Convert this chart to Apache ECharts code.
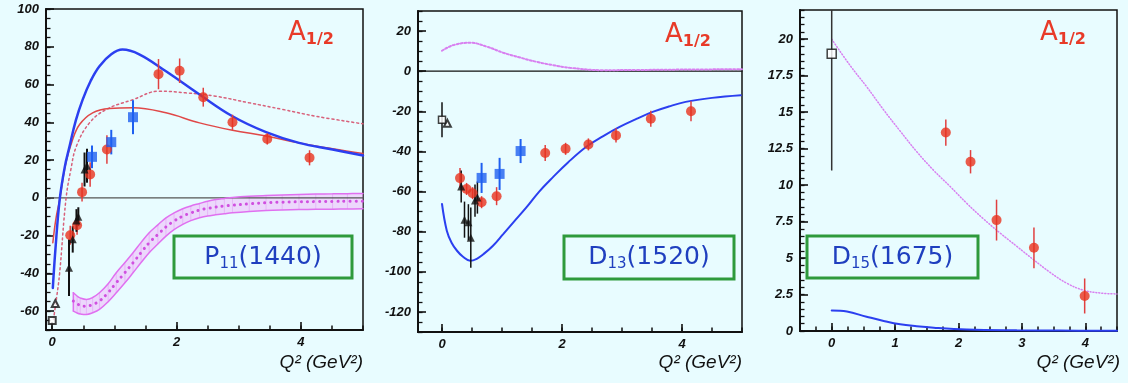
<!DOCTYPE html>
<html>
<head>
<meta charset="utf-8">
<script src="https://cdn.jsdelivr.net/npm/echarts@6/dist/echarts.min.js"></script>
<style>
  html, body { margin: 0; padding: 0; background: #e8fcff; }
  #chart { width: 1128px; height: 383px; }
</style>
</head>
<body>
<div id="chart"></div>
<script>
// ---------- P11(1440) ----------
const p11RedX   = [0.29, 0.40, 0.48, 0.61, 0.88, 1.71, 2.05, 2.43, 2.90, 3.46, 4.14];
const p11RedY   = [-19.8, -14.5, 3.0, 12.4, 25.6, 65.5, 67.3, 53.3, 40.0, 31.2, 21.2];
const p11RedErr = [5, 5, 5, 6.5, 7.5, 8, 6.5, 5, 4, 3, 4];
const p11BlueX   = [0.64, 0.95, 1.30];
const p11BlueY   = [21.7, 29.5, 42.7];
const p11BlueErr = [6, 6.5, 9];
const p11TriX   = [0.27, 0.33, 0.39, 0.42, 0.52, 0.56];
const p11TriY   = [-37, -22, -12, -10, 15, 17];
const p11TriErr = [15, 7, 6, 5, 9, 9];
const p11OpenSq  = [0, -65];
const p11OpenTri = [0.05, -56];
const p11BlueCurveX = [0.01, 0.05, 0.12, 0.20, 0.28, 0.38, 0.49, 0.62, 0.76, 0.95, 1.13, 1.40, 1.83, 2.37, 2.90, 3.44, 3.97, 4.51, 5.0];
const p11BlueCurveY = [-47.7, -28, -1, 16, 27.4, 41, 52, 62, 69.7, 76, 78.5, 76, 67, 54.7, 43.2, 34.8, 29.1, 25.6, 22.4];
const p11RedCurveX = [0.01, 0.06, 0.12, 0.22, 0.32, 0.44, 0.65, 0.92, 1.30, 1.83, 2.37, 2.90, 3.44, 3.97, 4.51, 5.0];
const p11RedCurveY = [-23.8, -11, -1, 18.5, 30, 38.8, 45, 47.3, 47.7, 45, 39.7, 35.8, 32.7, 29.1, 26, 23.5];
const p11DotX = [0.02, 0.07, 0.12, 0.22, 0.30, 0.39, 0.60, 0.87, 1.30, 1.72, 2.15, 2.63, 3.17, 3.71, 4.24, 5.0];
const p11DotY = [-64.4, -53, -39.7, -1, 15, 27.4, 39.7, 46.8, 52, 56.5, 55.6, 53.8, 50.3, 46.8, 43.2, 39.2];
const p11BandX   = [0.34, 0.40, 0.45, 0.55, 0.65, 0.76, 0.90, 1.03, 1.17, 1.30, 1.43, 1.56, 1.70, 1.83, 1.96, 2.10, 2.23, 2.37, 2.50, 2.63, 2.77, 2.90, 3.17, 3.44, 3.70, 3.97, 4.24, 4.51, 4.75, 5.0];
const p11BandHi  = [-50.3, -52, -53, -53.8, -52.8, -50.3, -45.5, -39.7, -34.3, -29.1, -23.6, -18.5, -14.3, -10.6, -8.0, -5.8, -4.3, -3.0, -1.8, -0.9, -0.3, 0.2, 0.8, 1.2, 1.5, 1.8, 2.0, 2.1, 2.2, 2.3];
const p11BandLo  = [-60, -61, -61.5, -61.8, -60.9, -59.1, -55.0, -50.3, -45.0, -39.7, -34.3, -29.1, -24.5, -20.3, -16.9, -14.1, -12.1, -10.6, -9.6, -9.0, -8.4, -7.9, -7.2, -6.7, -6.4, -6.2, -6.1, -6.0, -5.9, -5.8];
const p11BandMid = [-54.7, -56, -57, -57.4, -56.5, -54.7, -50.2, -45, -39.6, -34.4, -29.0, -23.8, -19.4, -15.4, -12.3, -9.7, -8.0, -6.5, -5.6, -4.9, -4.3, -3.9, -3.2, -2.6, -2.3, -2.1, -2.0, -1.9, -1.85, -1.8];

// ---------- D13(1520) ----------
const d13RedX   = [0.30, 0.41, 0.51, 0.66, 0.91, 1.72, 2.06, 2.44, 2.90, 3.48, 4.15];
const d13RedY   = [-53.3, -58.7, -60.8, -65.3, -62.3, -40.8, -38.7, -36.5, -32, -23.7, -20];
const d13RedErr = [5, 3, 3, 3, 4.5, 4, 3, 3, 3.5, 4, 5];
const d13BlueX   = [0.66, 0.96, 1.31];
const d13BlueY   = [-53.2, -51.2, -39.8];
const d13BlueErr = [7.5, 8, 6];
const d13TriX   = [0.32, 0.375, 0.44, 0.48, 0.55, 0.59];
const d13TriY   = [-57.5, -74, -75.3, -83, -64.5, -63];
const d13TriErr = [8, 9, 9, 15, 8, 8];
const d13OpenSq    = [0, -24.2];
const d13OpenSqErr = 8.7;
const d13OpenTri   = [0.09, -26];
const d13BlueCurveX = [0.0, 0.08, 0.16, 0.25, 0.35, 0.47, 0.58, 0.69, 0.85, 1.02, 1.20, 1.41, 1.62, 1.85, 2.10, 2.40, 2.68, 2.96, 3.24, 3.51, 3.78, 4.06, 4.50, 4.98];
const d13BlueCurveY = [-66.2, -79.5, -85.5, -89.5, -92.5, -94.5, -93.5, -91.2, -87, -81.2, -75, -67.8, -60, -52.8, -45.5, -37.8, -32.5, -27.8, -23.8, -20.3, -17.6, -15.3, -13.3, -12];
const d13DotX = [0.0, 0.19, 0.47, 0.75, 1.02, 1.30, 1.57, 1.85, 2.13, 2.68, 3.23, 4.0, 5.0];
const d13DotY = [10.2, 13, 14.2, 12.2, 9.2, 6.8, 4.7, 3.0, 1.7, 0.5, 0.6, 0.8, 1.0];

// ---------- D15(1675) ----------
const d15RedX   = [1.80, 2.19, 2.60, 3.19, 3.99];
const d15RedY   = [13.6, 11.6, 7.6, 5.7, 2.4];
const d15RedErr = [0.9, 0.8, 1.4, 1.4, 1.2];
const d15OpenSq    = [0, 19];
const d15OpenSqErr = 8;
const d15DotX = [0, 0.29, 0.55, 0.82, 1.08, 1.34, 1.61, 1.87, 2.13, 2.39, 2.66, 2.92, 3.18, 3.45, 3.71, 3.97, 4.24, 4.5];
const d15DotY = [20, 18.2, 16.75, 15.15, 13.7, 12.3, 11.0, 9.9, 8.75, 7.7, 6.7, 5.8, 4.9, 4.0, 3.27, 2.8, 2.6, 2.54];
const d15BlueCurveX = [0, 0.24, 0.55, 0.82, 1.08, 1.34, 1.61, 2.13, 2.92, 3.6, 4.5];
const d15BlueCurveY = [1.4, 1.33, 0.98, 0.69, 0.46, 0.33, 0.23, 0.11, 0.05, 0.03, 0.02];

// ---------- tick values ----------
const p11YMajor = [-60, -40, -20, 0, 20, 40, 60, 80, 100];
const d13YMajor = [-120, -100, -80, -60, -40, -20, 0, 20];
const d15YMajor = [0, 2.5, 5, 7.5, 10, 12.5, 15, 17.5, 20];
const p11XMajor = [0, 2, 4];
const d13XMajor = [0, 2, 4];
const d15XMajor = [0, 1, 2, 3, 4];

function range(a, b, step) {
  const out = [];
  for (let v = a; v <= b + 1e-9; v += step) out.push(Math.round(v * 1000) / 1000);
  return out;
}
const zip = (xs, ys) => xs.map((x, i) => [x, ys[i]]);
const zip3 = (xs, ys, es) => xs.map((x, i) => [x, ys[i], es[i]]);

const labelFont = { fontFamily: 'Liberation Sans', fontWeight: 'bold', fontStyle: 'italic', fontSize: 13, color: '#111' };

const grids = [
  { left: 46,  top: 9,  width: 317, height: 321 },
  { left: 418, top: 11, width: 324, height: 321 },
  { left: 800, top: 10, width: 317, height: 321 }
];
const xRanges = [[-0.1, 5], [-0.4, 5], [-0.5, 4.5]];
const yRanges = [[-70, 100], [-130, 30], [0, 22]];
const xMajors = [p11XMajor, d13XMajor, d15XMajor];
const yMajors = [p11YMajor, d13YMajor, d15YMajor];
const xMinors = [range(0, 5, 0.5), range(0, 5, 0.5), range(-0.5, 4.5, 0.25)];
const yMinors = [range(-70, 100, 5), range(-130, 30, 5), range(0, 22, 0.5)];

const xAxes = [], yAxes = [];
for (let g = 0; g < 3; g++) {
  // major axis (labels + long ticks)
  xAxes.push({
    type: 'value', gridIndex: g, min: xRanges[g][0], max: xRanges[g][1], position: 'bottom',
    axisLine: { show: true, onZero: false, lineStyle: { color: '#111', width: 2 } },
    axisTick: { show: true, inside: true, length: 8, customValues: xMajors[g], lineStyle: { color: '#111', width: 1.6 } },
    axisLabel: { show: true, customValues: xMajors[g], margin: 6, ...labelFont },
    splitLine: { show: false }
  });
  // minor ticks
  xAxes.push({
    type: 'value', gridIndex: g, min: xRanges[g][0], max: xRanges[g][1], position: 'bottom',
    axisLine: { show: false, onZero: false },
    axisTick: { show: true, inside: true, length: 4.5, customValues: xMinors[g], lineStyle: { color: '#111', width: 1.5 } },
    axisLabel: { show: false }, splitLine: { show: false }
  });
  yAxes.push({
    type: 'value', gridIndex: g, min: yRanges[g][0], max: yRanges[g][1], position: 'left',
    axisLine: { show: true, onZero: false, lineStyle: { color: '#111', width: 2 } },
    axisTick: { show: true, inside: true, length: 8, customValues: yMajors[g], lineStyle: { color: '#111', width: 1.6 } },
    axisLabel: { show: true, customValues: yMajors[g], margin: 7, ...labelFont },
    splitLine: { show: false }
  });
  yAxes.push({
    type: 'value', gridIndex: g, min: yRanges[g][0], max: yRanges[g][1], position: 'left',
    axisLine: { show: false, onZero: false },
    axisTick: { show: true, inside: true, length: 4.5, customValues: yMinors[g], lineStyle: { color: '#111', width: 1.3 } },
    axisLabel: { show: false }, splitLine: { show: false }
  });
}

function errorBars(g, xs, ys, es, color, width) {
  return {
    type: 'custom', xAxisIndex: 2 * g, yAxisIndex: 2 * g, clip: true, z: 3,
    data: zip3(xs, ys, es),
    encode: { x: 0, y: 1 },
    renderItem: function (params, api) {
      const x = api.value(0), y = api.value(1), e = api.value(2);
      const a = api.coord([x, y - e]), b = api.coord([x, y + e]);
      return { type: 'line', shape: { x1: a[0], y1: a[1], x2: b[0], y2: b[1] },
               style: { stroke: color, lineWidth: width } };
    }
  };
}
function markers(g, pts, symbol, size, color, extra) {
  return Object.assign({
    type: 'scatter', xAxisIndex: 2 * g, yAxisIndex: 2 * g, z: 4,
    symbol: symbol, symbolSize: size, data: pts,
    itemStyle: { color: color }
  }, extra || {});
}
function curve(g, xs, ys, color, width, dash, extra) {
  return Object.assign({
    type: 'line', xAxisIndex: 2 * g, yAxisIndex: 2 * g, z: 2,
    data: zip(xs, ys), smooth: 0.4, showSymbol: false, symbol: 'none',
    lineStyle: { color: color, width: width, type: dash || 'solid', cap: 'round' }
  }, extra || {});
}
function zeroLine(g, color) {
  return curve(g, [xRanges[g][0], xRanges[g][1]], [0, 0], color, 1.2, 'solid', { smooth: false, z: 1 });
}

// shaded uncertainty band for the P11 model (fill only; edges drawn as lines)
const bandSeries = {
  type: 'custom', xAxisIndex: 0, yAxisIndex: 0, z: 1, clip: true,
  data: [[p11BandX[0], p11BandLo[0]]],
  renderItem: function (params, api) {
    const upper = p11BandX.map((x, i) => api.coord([x, p11BandHi[i]]));
    const lower = p11BandX.map((x, i) => api.coord([x, p11BandLo[i]])).reverse();
    const pts = upper.concat(lower);
    const children = [
      { type: 'polygon', shape: { points: pts }, style: { fill: 'rgba(238,185,250,0.55)' } }
    ];
    // faint vertical hatching inside the band
    for (let i = 0; i < p11BandX.length; i++) {
      const a = upper[i], b = lower[p11BandX.length - 1 - i];
      children.push({ type: 'line', shape: { x1: a[0], y1: a[1], x2: b[0], y2: b[1] },
                      style: { stroke: 'rgba(220,120,240,0.35)', lineWidth: 1 } });
    }
    return { type: 'group', children: children };
  }
};

const RED = '#e8321e', BLUE = '#1e5ff0', CURVE_BLUE = '#2b3ff0', BAND = '#e070f0';

const series = [
  // P11
  zeroLine(0, '#555'),
  bandSeries,
  curve(0, p11BandX, p11BandHi, BAND, 1.5, 'solid', { z: 1 }),
  curve(0, p11BandX, p11BandLo, BAND, 1.5, 'solid', { z: 1 }),
  curve(0, [p11BandX[0], p11BandX[0]], [p11BandHi[0], p11BandLo[0]], BAND, 1.5, 'solid', { z: 1, smooth: false }),
  curve(0, p11BandX, p11BandMid, '#d050e0', 3, [0.1, 6]),
  curve(0, p11DotX, p11DotY, '#d8607a', 1.5, [2, 3]),
  curve(0, p11RedCurveX, p11RedCurveY, '#e04848', 1.5),
  curve(0, p11BlueCurveX, p11BlueCurveY, CURVE_BLUE, 2.5),
  errorBars(0, p11RedX, p11RedY, p11RedErr, '#e04040', 1.5),
  errorBars(0, p11BlueX, p11BlueY, p11BlueErr, BLUE, 2),
  errorBars(0, p11TriX, p11TriY, p11TriErr, '#111', 2),
  markers(0, zip(p11RedX, p11RedY), 'circle', 10, RED),
  markers(0, zip(p11BlueX, p11BlueY), 'rect', 10, BLUE),
  markers(0, zip(p11TriX, p11TriY), 'triangle', 8, '#111'),
  markers(0, [p11OpenSq], 'emptyRect', 7, '#111', { itemStyle: { color: '#111', borderWidth: 1.5 } }),
  markers(0, [p11OpenTri], 'emptyTriangle', 7, '#111', { itemStyle: { color: '#111', borderWidth: 1.5 } }),
  // D13
  zeroLine(1, '#111'),
  curve(1, d13DotX, d13DotY, '#d880f0', 2, [2, 2]),
  curve(1, d13BlueCurveX, d13BlueCurveY, CURVE_BLUE, 2),
  errorBars(1, d13RedX, d13RedY, d13RedErr, '#e04040', 1.5),
  errorBars(1, d13BlueX, d13BlueY, d13BlueErr, BLUE, 2),
  errorBars(1, d13TriX, d13TriY, d13TriErr, '#111', 1.5),
  errorBars(1, [d13OpenSq[0]], [d13OpenSq[1]], [d13OpenSqErr], '#111', 1.5),
  markers(1, zip(d13RedX, d13RedY), 'circle', 10, RED),
  markers(1, zip(d13BlueX, d13BlueY), 'rect', 10, BLUE),
  markers(1, zip(d13TriX, d13TriY), 'triangle', 8, '#111'),
  markers(1, [d13OpenSq], 'rect', 7, '#fff', { itemStyle: { color: '#fff', borderColor: '#111', borderWidth: 1.5 }, z: 5 }),
  markers(1, [d13OpenTri], 'emptyTriangle', 7, '#111', { itemStyle: { color: '#111', borderWidth: 1.5 } }),
  // D15
  curve(2, d15DotX, d15DotY, '#d880f0', 1.5, [1, 2]),
  curve(2, d15BlueCurveX, d15BlueCurveY, CURVE_BLUE, 2),
  errorBars(2, d15RedX, d15RedY, d15RedErr, '#e04040', 1.5),
  errorBars(2, [d15OpenSq[0]], [d15OpenSq[1]], [d15OpenSqErr], '#333', 1.5),
  markers(2, zip(d15RedX, d15RedY), 'circle', 10, RED),
  markers(2, [d15OpenSq], 'rect', 9, '#fff', { itemStyle: { color: '#fff', borderColor: '#111', borderWidth: 1.5 }, z: 5 })
];

// text elements: amplitude tag, resonance boxes, axis titles
const ampRich = {
  a: { fontFamily: 'DejaVu Sans', fontSize: 26, fill: '#e83a28' },
  s: { fontFamily: 'DejaVu Sans', fontSize: 16, fontWeight: 'bold', fill: '#e83a28', padding: [14, 0, 0, 0] }
};
const boxRich = {
  a: { fontFamily: 'DejaVu Sans', fontSize: 25, fill: '#1f3fbf' },
  s: { fontFamily: 'DejaVu Sans', fontSize: 15, fill: '#1f3fbf', padding: [14, 0, 0, 0] }
};
const ampPos = [[288, 20], [665, 22], [1040, 20]];
const boxes = [
  { x: 174, y: 236, w: 178, h: 42, name: 'P', sub: '11', mass: '(1440)' },
  { x: 564, y: 236, w: 170, h: 43, name: 'D', sub: '13', mass: '(1520)' },
  { x: 807, y: 236, w: 171, h: 42, name: 'D', sub: '15', mass: '(1675)' }
];
const axisTitleRight = [363, 742, 1120];

const graphic = [];
ampPos.forEach(p => graphic.push({
  type: 'text', left: p[0], top: p[1], z: 10,
  style: { text: '{a|A}{s|1/2}', rich: ampRich }
}));
boxes.forEach(b => {
  graphic.push({ type: 'rect', z: 10, shape: { x: b.x, y: b.y, width: b.w, height: b.h },
    style: { fill: 'rgba(0,0,0,0)', stroke: '#2e9a3c', lineWidth: 3 } });
  graphic.push({ type: 'text', z: 10, x: b.x + b.w / 2, y: b.y + b.h / 2,
    style: { text: '{a|' + b.name + '}{s|' + b.sub + '}{a|' + b.mass + '}', rich: boxRich,
             align: 'center', verticalAlign: 'middle' } });
});
axisTitleRight.forEach(r => graphic.push({
  type: 'text', z: 10, x: r, y: 363,
  style: { text: 'Q² (GeV²)', fontFamily: 'Liberation Sans', fontStyle: 'italic', fontSize: 19,
           fill: '#111', align: 'right', verticalAlign: 'middle' }
}));

const chart = echarts.init(document.getElementById('chart'), null, { renderer: 'canvas' });
chart.setOption({
  backgroundColor: '#e8fcff',
  animation: false,
  grid: grids.map(g => Object.assign({ show: true, borderColor: '#111', borderWidth: 1.5, backgroundColor: 'transparent' }, g)),
  xAxis: xAxes,
  yAxis: yAxes,
  series: series,
  graphic: graphic
});
</script>
</body>
</html>
